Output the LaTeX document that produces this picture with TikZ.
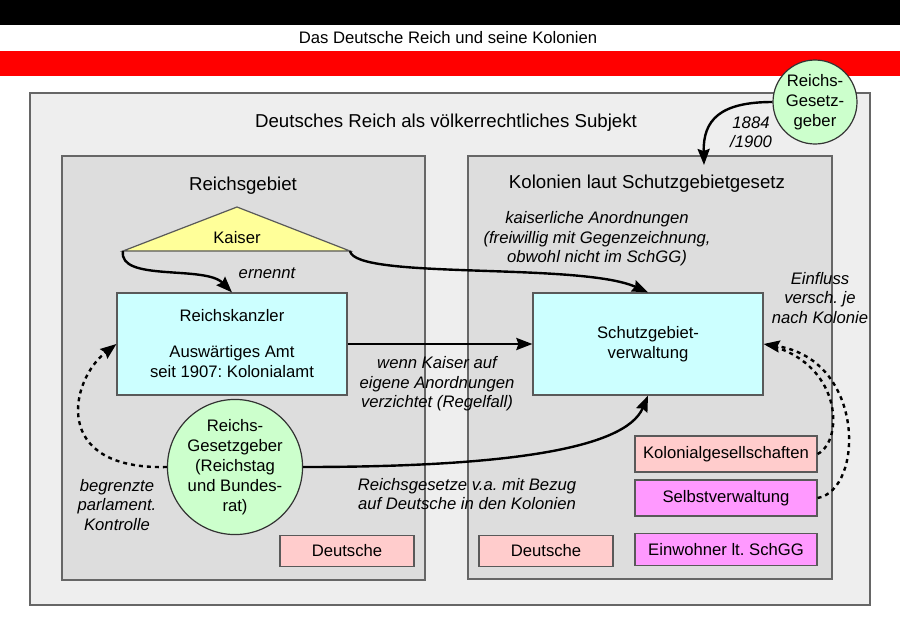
\documentclass[tikz,border=0pt]{standalone}
\usepackage{fontspec}
\setmainfont{Liberation Sans}
\usetikzlibrary{arrows.meta}
\frenchspacing

\definecolor{rahmengrau}{HTML}{EEEEEE}
\definecolor{feldgrau}{HTML}{DDDDDD}
\definecolor{hellblau}{HTML}{CCFFFF}
\definecolor{hellgelb}{HTML}{FFFF99}
\definecolor{hellgruen}{HTML}{CCFFCC}
\definecolor{rosa}{HTML}{FFCCCC}
\definecolor{lila}{HTML}{FF99FF}

\newcommand{\kopffont}{\fontsize{14}{17}\selectfont}
\newcommand{\grundfont}{\fontsize{12.5}{15}\selectfont}
\newcommand{\notizfont}{\fontsize{12.5}{14.5}\selectfont\itshape}

\begin{document}
\begin{tikzpicture}[x=0.75pt, y=-0.75pt, >={Stealth[length=12pt, width=9pt, inset=1.5pt]},
    feld/.style={draw=black!60, line width=0.9pt},
    kasten/.style={draw=black!65, line width=0.9pt, inner sep=0pt, align=center, font=\grundfont},
    rund/.style={circle, draw=black!80, fill=hellgruen, line width=0.9pt, inner sep=0pt, align=center, font=\grundfont},
    pfeil/.style={->, line width=1.8pt},
    punkte/.style={line width=1.8pt, dash pattern=on 3pt off 3pt},
    notiz/.style={align=center, font=\notizfont}]

    \useasboundingbox (0,0) rectangle (900,640);

    % ==================== Flaggenstreifen mit Titel ====================
    \fill[black] (0,0) rectangle (900,25);
    \fill[red] (0,51) rectangle (900,76);
    \node[font=\grundfont] (titel) at (448,38) {Das Deutsche Reich und seine Kolonien};

    % ==================== Rahmen und Felder ====================
    \draw[feld, fill=rahmengrau] (30,93) rectangle (870,605);
    \node[font=\kopffont] (subjekt) at (446,123) {Deutsches Reich als völkerrechtliches Subjekt};

    \draw[feld, fill=feldgrau] (62,156) rectangle (425,580);
    \node[font=\kopffont] (reichsgebiet) at (243,186) {Reichsgebiet};

    \draw[feld, fill=feldgrau] (468,156) rectangle (832,579);
    \node[font=\kopffont] (kolonien) at (647,184) {Kolonien laut Schutzgebietgesetz};
    \coordinate (kolTop) at (704,165);

    % ==================== Kaiser (Dreieck) ====================
    \coordinate (kaiserL) at (123,251);
    \coordinate (kaiserO) at (237,207);
    \coordinate (kaiserR) at (350,251);
    \draw[fill=hellgelb, draw=black!65, line width=0.9pt] (kaiserL) -- (kaiserO) -- (kaiserR) -- cycle;
    \node[font=\grundfont] (kaiser) at (237,238) {Kaiser};

    % ==================== Kaesten ====================
    \node[kasten, fill=hellblau, minimum width=172.5pt, minimum height=76.5pt] (kanzler) at (232,344)
        {Reichskanzler\\[12pt]Auswärtiges Amt\\seit 1907: Kolonialamt};
    \node[kasten, fill=hellblau, minimum width=172.5pt, minimum height=76.5pt] (verwaltung) at (648,344)
        {Schutzgebiet-\\verwaltung};

    \node[kasten, fill=rosa, minimum width=100.5pt, minimum height=23pt] (deutscheL) at (347,551) {Deutsche};
    \node[kasten, fill=rosa, minimum width=100.5pt, minimum height=23pt] (deutscheR) at (546,551) {Deutsche};
    \node[kasten, fill=rosa, minimum width=136.5pt, minimum height=27pt] (kolges) at (726,454) {Kolonialgesellschaften};
    \node[kasten, fill=lila, minimum width=136.5pt, minimum height=27pt] (selbst) at (726,498) {Selbstverwaltung};
    \node[kasten, fill=lila, minimum width=136.5pt, minimum height=23.5pt] (einwohner) at (726,549.5) {Einwohner lt. SchGG};

    % Gesetzgeber (Kreise)
    \node[rund, minimum size=96.75pt] (gesetzgeber) at (235,467)
        {Reichs-\\Gesetzgeber\\(Reichstag\\und Bundes-\\rat)};
    \node[rund, minimum size=63pt] (gesetzgeberK) at (815,102) {Reichs-\\Gesetz-\\geber};

    % ==================== Pfeile ====================
    \draw[pfeil] (kaiserL) .. controls (118,282) and (205,265) .. (kanzler.north);
    \node[notiz] (ernennt) at (267,273) {ernennt};

    \draw[pfeil] (kaiserR) .. controls (355,280) and (580,262) .. (verwaltung.north);
    \node[notiz] (anordnung) at (597,239) {kaiserliche Anordnungen\\(freiwillig mit Gegenzeichnung,\\obwohl nicht im SchGG)};

    \draw[pfeil] (kanzler.east) -- (verwaltung.west);
    \node[notiz] (regelfall) at (437,384) {wenn Kaiser auf\\eigene Anordnungen\\verzichtet (Regelfall)};

    \draw[pfeil] (gesetzgeber.east) .. controls (500,467) and (625,450) .. (verwaltung.south);
    \node[notiz] (bezug) at (467,494) {Reichsgesetze v.a. mit Bezug\\auf Deutsche in den Kolonien};

    \draw[pfeil, punkte] (gesetzgeber.west) .. controls (50,470) and (70,380) .. (kanzler.west);
    \node[notiz] (kontrolle) at (117,505) {begrenzte\\parlament.\\Kontrolle};

    \draw[punkte] (kolges.east) .. controls (845,440) and (842,360) .. (verwaltung.east);
    \draw[pfeil, punkte] (selbst.east) .. controls (864,490) and (866,360) .. (verwaltung.east);
    \node[notiz] (einfluss) at (820,298) {Einfluss\\versch. je\\nach Kolonie};

    \draw[pfeil] (gesetzgeberK.west) .. controls (720,102) and (703,120) .. (kolTop);
    \node[notiz] (jahr) at (751,132) {1884\\/1900};

\end{tikzpicture}
\end{document}
